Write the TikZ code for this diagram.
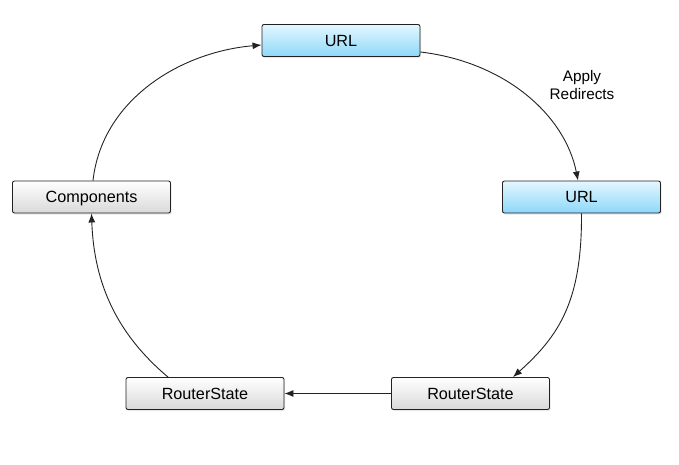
\documentclass[tikz,border=0pt]{standalone}
\usepackage{fontspec}
\setmainfont{Liberation Sans}
\usetikzlibrary{arrows.meta,shadows}
\definecolor{blueTop}{HTML}{E4F7FF}
\definecolor{blueBot}{HTML}{8DD8F8}
\definecolor{grayTop}{HTML}{FFFFFF}
\definecolor{grayBot}{HTML}{D9D9D9}
\definecolor{edgeCol}{HTML}{222222}
\tikzset{
  box/.style={draw=edgeCol, line width=0.9pt, rounded corners=2pt,
    minimum width=158pt, minimum height=32pt, inner sep=0pt,
    text height=11.6pt, text depth=0pt,
    font=\fontsize{16.2}{19}\selectfont,
    drop shadow={opacity=0.18, shadow xshift=1pt, shadow yshift=-1.5pt}},
  bluebox/.style={box, top color=blueTop, bottom color=blueBot},
  graybox/.style={box, top color=grayTop, bottom color=grayBot},
  conn/.style={draw=edgeCol, line width=0.9pt, -{Latex[length=9pt,width=7pt]}},
}
\begin{document}
\begin{tikzpicture}[x=1pt,y=-1pt]
\useasboundingbox (0,0) rectangle (679,465);
\node[bluebox] (u1) at (341,40.5) {URL};
\node[bluebox] (u2) at (581.5,197) {URL};
\node[graybox] (comp) at (91.5,197) {Components};
\node[graybox] (rs1) at (205,393.5) {RouterState};
\node[graybox] (rs2) at (470.5,393.5) {RouterState};
\node[font=\fontsize{15.3}{18.6}\selectfont, align=center] (lbl) at (582,85) {Apply\\Redirects};

\draw[conn] ([yshift=-11.5pt]u1.east) .. controls (505,62) and (565,115) .. ([xshift=-3.5pt]u2.north);
\draw[conn] (u2.south) .. controls (582,300) and (560,335) .. ([xshift=42.5pt]rs2.north);
\draw[conn] (rs2.west) -- (rs1.east);
\draw[conn] ([xshift=-37pt]rs1.north) .. controls (118,335) and (94,285) .. (comp.south);
\draw[conn] ([xshift=1.5pt]comp.north) .. controls (102,100) and (180,52) .. ([yshift=-4.5pt]u1.west);
\end{tikzpicture}
\end{document}
